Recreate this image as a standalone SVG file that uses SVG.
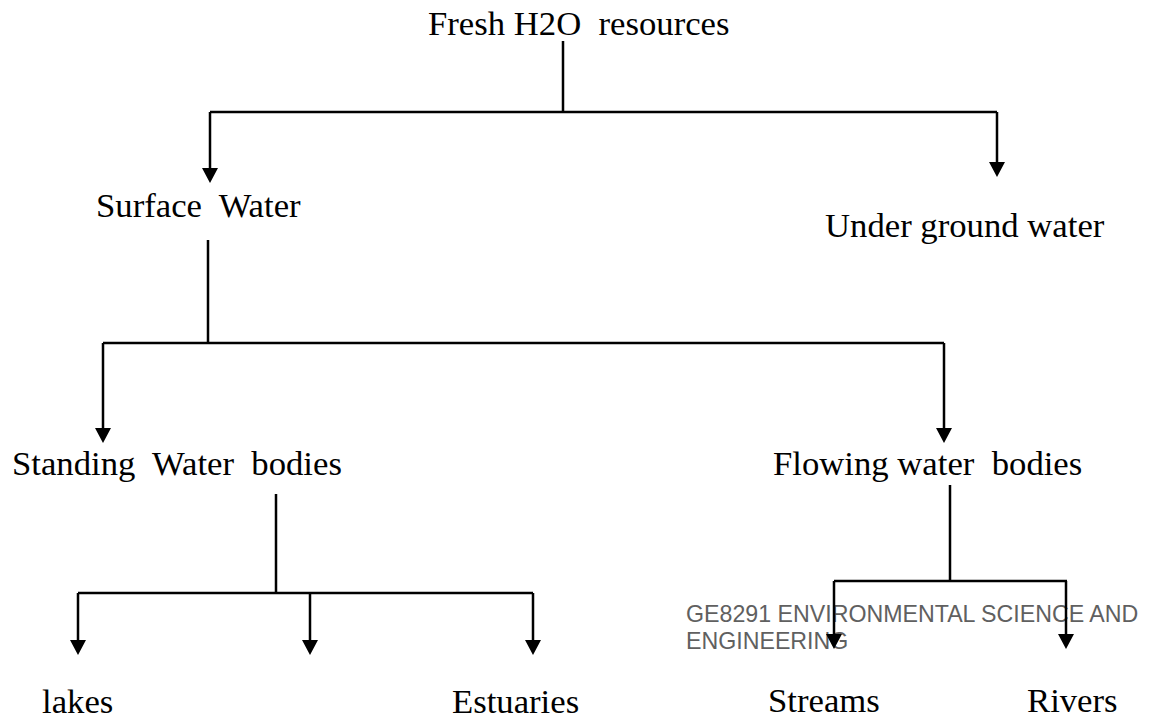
<svg xmlns="http://www.w3.org/2000/svg" width="1149" height="721" viewBox="0 0 1149 721">
<style>
.t{font-family:"Liberation Serif","Times New Roman",serif;font-size:34.7px;fill:#000;white-space:pre}
.w{font-family:"Liberation Sans",Arial,sans-serif;font-size:23.2px;fill:#606060;white-space:pre}
.c{stroke:#000;stroke-width:2.5;fill:none}
.a{fill:#000}
</style>
<rect width="1149" height="721" fill="#fff"/>
<g id="fresh"><text class="t" x="428" y="35">Fresh H2O  resources</text></g>
<g id="surface"><text class="t" x="96" y="217">Surface  Water</text></g>
<g id="underground"><text class="t" x="825" y="237">Under ground water</text></g>
<g id="standing"><text class="t" x="12" y="475">Standing  Water  bodies</text></g>
<g id="flowing"><text class="t" x="773" y="475">Flowing water  bodies</text></g>
<g id="lakes"><text class="t" x="42" y="713">lakes</text></g>
<g id="estuaries"><text class="t" x="452" y="713">Estuaries</text></g>
<g id="streams"><text class="t" x="768" y="712">Streams</text></g>
<g id="rivers"><text class="t" x="1027" y="712">Rivers</text></g>
<g id="watermark"><text class="w" x="686" y="622">GE8291 ENVIRONMENTAL SCIENCE AND</text><text class="w" x="686" y="649">ENGINEERING</text></g>
<g id="connectors">
<path class="c" d="M563 41V112M210 112H997M210 112V170M997 112V164"/>
<polygon class="a" points="202,168 218,168 210,183"/>
<polygon class="a" points="989,162 1005,162 997,177"/>
<path class="c" d="M208 240V343M103 343H944M103 343V430M944 343V430"/>
<polygon class="a" points="95,428 111,428 103,443"/>
<polygon class="a" points="936,428 952,428 944,443"/>
<path class="c" d="M276 494V593M78 593H533M78 593V642M310 593V642M533 593V642"/>
<polygon class="a" points="70,640 86,640 78,655"/>
<polygon class="a" points="302,640 318,640 310,655"/>
<polygon class="a" points="525,640 541,640 533,655"/>
<path class="c" d="M950 485V581M834 581H1067M834 581V636M1066 581V636"/>
<polygon class="a" points="826,634 842,634 834,649"/>
<polygon class="a" points="1058,634 1074,634 1066,649"/>
</g>
</svg>
